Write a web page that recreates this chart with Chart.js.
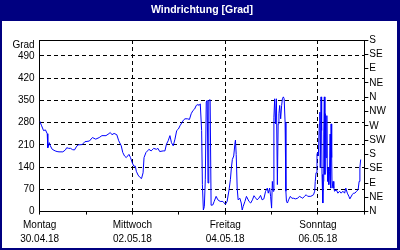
<!DOCTYPE html>
<html>
<head>
<meta charset="utf-8">
<script src="https://cdn.jsdelivr.net/npm/chart.js"></script>
<style>
    html, body { margin: 0; padding: 0; background: #fff; }
</style>
</head>
<body>
<canvas id="chart" width="400" height="250"></canvas>
<script>
// Wind direction readings, hours since Monday 30.04.18 00:00
const hours = [
    0, 1, 2, 3, 3.9, 4.2, 5, 5.5, 6.5, 8, 9, 10, 12, 13.3, 14, 15, 16, 17, 18, 19.2, 20, 22, 23.4,
    25.7, 27.3, 29, 30.8, 32.2, 34.3, 36, 36.5, 37.4, 38.5, 39.9, 40.9, 42.2, 43, 43.9, 44.8, 46.2, 47, 47.9,
    48.7, 49.5, 50, 50.9, 51.8, 52.7, 53.5, 54, 55, 55.8, 56.5, 57.7, 59, 60.4, 61.2, 62.1, 63.9, 64.8,
    65.6, 66.5, 67.4, 68.2, 69.1, 70, 70.9, 71.8, 72.6, 73.5, 74.4, 75.2, 76.5, 77.5, 78.4, 79.3, 80.2, 81, 81.9, 82.5, 83.1,
    83.8, 84.2, 84.7, 85.2, 85.7, 86.2, 86.7, 87.1, 87.5, 88.2, 88.7, 89.6, 90.3, 91.3, 92.2, 93.4, 94.8,
    96.1, 97, 98, 98.7, 99.2, 99.7, 100.4, 101, 101.3, 101.7, 102.2, 102.7, 103.6, 104.3, 104.8, 105.3, 106.2, 107, 108.3, 109.2, 110.1, 110.9,
    111.5, 112.5, 113.4, 114.3, 115.1, 116, 116.9, 117.8, 118.3, 119, 119.5, 120, 120.4, 120.8, 121.2, 121.6, 122, 122.5, 123,
    123.4, 123.8, 124.2, 124.7, 125.2, 125.6, 126.1, 126.5, 127, 127.4, 127.7, 128.2, 128.8, 129.7, 130.5, 131.4, 132.3, 133.5, 134.4,
    135.3, 136.1, 137, 137.9, 138.7, 140.3, 141.7, 142.3, 142.6, 143, 143.5, 143.8, 144.2, 144.7, 145, 145.2, 145.6, 145.9, 146.1,
    146.5, 146.8, 147, 147.3, 147.6, 147.8, 148.2, 148.6, 148.8, 149.1, 149.4, 149.6, 150, 150.3, 150.5, 150.8, 151.1, 151.3,
    151.8, 152.2, 152.6, 153.5, 154.3, 155.2, 156, 156.9, 157.8, 158.4, 159.2, 160, 160.5, 161.7, 162.4, 163.1, 164, 164.8, 165.3, 165.7, 166.1
];
const degrees = [
    285, 270, 255, 257, 245, 201, 217, 207, 196, 191, 189, 188, 188, 194, 201, 199, 199, 195, 194, 206, 210, 211, 220,
    222, 233, 228, 233, 239, 239, 246, 249, 242, 246, 242, 223, 207, 186, 175, 170, 180, 170, 154,
    143, 143, 127, 115, 108, 104, 122, 170, 186, 191, 196, 191, 199, 196, 199, 189, 191, 191,
    212, 223, 239, 217, 207, 228, 255, 260, 270, 279, 288, 292, 292, 290, 308, 318, 323, 334, 337, 334, 339,
    255, 85, 5, 16, 100, 345, 350, 90, 350, 352, 20, 21, 32, 48, 37, 32, 32,
    23, 32, 69, 101, 138, 164, 175, 212, 225, 180, 74, 37, 42, 27, 5, 16, 32, 48, 32, 27, 37, 50,
    45, 37, 42, 51, 37, 40, 64, 74, 58, 74, 48, 11, 95, 64, 297, 355, 276, 355, 85,
    276, 308, 334, 292, 334, 355, 361, 355, 281, 64, 32, 27, 37, 48, 42, 42, 40, 42, 48,
    45, 42, 48, 53, 48, 48, 53, 64, 95, 122, 180, 186, 175, 276, 313, 138, 361, 255, 117,
    27, 95, 244, 361, 117, 308, 170, 302, 138, 95, 138, 85, 127, 244, 74, 276, 170, 74,
    95, 74, 64, 69, 58, 64, 58, 64, 58, 74, 58, 48, 40, 53, 58, 58, 64, 69, 95, 138, 164
];

// Axis ticks and labels
const tickHours = [0, 24, 48, 72, 96, 120, 144, 168];
const gridHours = [48, 96, 144];
const labelHours = [0, 48, 96, 144];
const dayLabels = ['Montag', 'Mittwoch', 'Freitag', 'Sonntag'];
const dateLabels = ['30.04.18', '02.05.18', '04.05.18', '06.05.18'];
const degreeTicks = [0, 70, 140, 210, 280, 350, 420, 490];
const compassTicks = [0, 45, 90, 135, 180, 225, 270, 315, 360, 405, 450, 495, 540];
const compassLabels = ['N', 'NE', 'E', 'SE', 'S', 'SW', 'W', 'NW', 'N', 'NE', 'E', 'SE', 'S'];
const titleText = 'Windrichtung [Grad]';
const unitText = 'Grad';

const navy = '#000080';
const labelFont = { family: 'Liberation Sans', size: 10 };

// Frame, title bar and the bits Chart.js doesn't draw by itself
const framePlugin = {
    id: 'frame',
    beforeDraw(chart) {
        const ctx = chart.ctx;
        ctx.save();
        ctx.fillStyle = navy;
        ctx.fillRect(0, 0, 400, 250);
        ctx.fillStyle = '#fff';
        ctx.fillRect(2, 21, 395, 227);
        ctx.font = 'bold 10.5px "Liberation Sans"';
        ctx.textAlign = 'center';
        ctx.textBaseline = 'alphabetic';
        ctx.fillText(titleText, 202, 12.5);
        ctx.restore();
    },
    afterDraw(chart) {
        const { ctx, chartArea: a } = chart;
        ctx.save();
        ctx.strokeStyle = '#000';
        ctx.lineWidth = 1;
        ctx.beginPath();
        const y = Math.round(a.top) + 0.5;
        ctx.moveTo(a.left, y);
        ctx.lineTo(a.right, y);
        ctx.stroke();
        ctx.fillStyle = '#000';
        ctx.font = '10px "Liberation Sans"';
        ctx.textAlign = 'right';
        ctx.textBaseline = 'middle';
        ctx.fillText(unitText, a.left - 5, a.top + 5);
        ctx.restore();
    }
};

new Chart(document.getElementById('chart'), {
    type: 'line',
    data: {
        datasets: [{
            data: hours.map((h, i) => ({ x: h, y: degrees[i] })),
            borderColor: '#0000ff',
            borderWidth: 1,
            pointRadius: 0,
            tension: 0,
            fill: false
        }]
    },
    options: {
        responsive: false,
        animation: false,
        layout: { padding: { left: 13, right: 13, top: 40, bottom: 0 } },
        plugins: {
            legend: { display: false },
            tooltip: { enabled: false },
            title: { display: false }
        },
        scales: {
            x: {
                type: 'linear',
                min: 0,
                max: 168,
                afterBuildTicks: s => { s.ticks = tickHours.map(v => ({ value: v })); },
                ticks: {
                    autoSkip: false,
                    maxRotation: 0,
                    padding: 3,
                    color: '#000',
                    font: { family: 'Liberation Sans', size: 10, lineHeight: 1.47 },
                    callback: v => {
                        const i = labelHours.indexOf(v);
                        return i < 0 ? '' : [dayLabels[i], dateLabels[i]];
                    }
                },
                grid: {
                    color: c => (c.tick && gridHours.includes(c.tick.value)) ? '#000' : 'rgba(0,0,0,0)',
                    tickColor: '#000',
                    tickLength: 3
                },
                border: { display: true, color: '#000', dash: [4, 3] }
            },
            y: {
                position: 'left',
                min: 0,
                max: 540,
                afterBuildTicks: s => { s.ticks = degreeTicks.map(v => ({ value: v })); },
                ticks: { autoSkip: false, padding: 5, color: '#000', font: labelFont },
                grid: {
                    color: c => (c.tick && c.tick.value > 0) ? '#000' : 'rgba(0,0,0,0)',
                    drawTicks: false
                },
                border: { display: true, color: '#000', dash: [4, 3] }
            },
            y2: {
                position: 'right',
                min: 0,
                max: 540,
                afterBuildTicks: s => { s.ticks = compassTicks.map(v => ({ value: v })); },
                ticks: {
                    autoSkip: false,
                    padding: 1,
                    color: '#000',
                    font: labelFont,
                    callback: (v, i) => compassLabels[i]
                },
                grid: { drawOnChartArea: false, tickLength: 4, tickColor: '#000' },
                border: { display: true, color: '#000' }
            }
        }
    },
    plugins: [framePlugin]
});
</script>
</body>
</html>
